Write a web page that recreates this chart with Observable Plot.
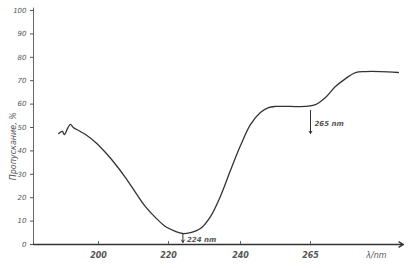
<!DOCTYPE html>
<html><head><meta charset="utf-8">
<script src="https://cdn.jsdelivr.net/npm/d3@7"></script>
<script src="https://cdn.jsdelivr.net/npm/@observablehq/plot@0.6"></script>
<style>
body{margin:0;background:#fff;}
svg{font-family:"DejaVu Sans",sans-serif;}
</style></head><body>
<div id="chart"></div>
<script>
const wavelength = [190.2,191.1,191.6,192.4,193.1,193.8,195.1,196.8,199.3,202.0,204.9,207.7,210.6,213.4,216.3,219.1,221.9,223.9,226.1,228.9,231.7,234.4,237.2,240.0,243.6,247.1,250.0,252.5,257.9,263.2,266.7,270.0,273.3,276.7,280.0,283.3,288.3,294.3];
const transmission = [47.4,48.3,47.0,49.6,51.3,50.0,48.7,47.0,43.6,39.3,34.2,28.6,22.2,16.2,11.5,7.7,5.6,4.7,5.1,6.8,12.0,20.5,31.6,42.3,51.3,56.4,58.5,59.0,59.0,59.0,59.8,62.8,67.5,70.9,73.5,73.9,73.9,73.5];
const xTicks = [200,220,240,265];
const xTickLabels = ["200","220","240","265"];
const yTicks = [0,10,20,30,40,50,60,70,80,90,100];
const markers = [224,265];
const markerLabels = ["224 nm","265 nm"];
const markerTop = [4.7,57.3];
const markerBottom = [0.9,47.4];
const markerText = [2.1,51.7];
const yTitle = "Пропускание, %";
const xTitle = "λ/nm";
// hand-drawn, unevenly spaced wavelength axis: break points of the drawing
const axisBreaks = [184,200,220,240,265,296];
const axisPos = [0,65,135,207,277,370];

const curve = wavelength.map((w,i)=>({w, t: transmission[i]}));
const ann = markers.map((m,i)=>({m, label: markerLabels[i], y1: markerTop[i], y2: markerBottom[i], ty: markerText[i]}));
const ink = "#333";
const textInk = "#555";
const warp = d3.scaleLinear().domain(axisBreaks).range(axisPos);

const chart = Plot.plot({
  width: 414, height: 268,
  marginLeft: 33, marginRight: 11, marginTop: 10, marginBottom: 24,
  x: {domain: [warp(184), warp(296)], transform: d => warp(d), axis: null},
  y: {domain: [0,100], axis: null},
  marks: [
    Plot.ruleX([184], {y1: 0, y2: 101, stroke: "#666", strokeWidth: 1}),
    Plot.arrow([0], {x1: 184, x2: 296, y1: 0, y2: 0, stroke: ink, strokeWidth: 1.3, headLength: 6, bend: 0}),
    Plot.axisY({ticks: yTicks, tickSize: 3, tickPadding: 4, fontStyle: "italic", fontSize: 7, color: textInk, label: null}),
    Plot.text(xTicks, {x: d=>d, y: 0, text: (d,i)=>xTickLabels[i], dy: 11, fontStyle: "italic", fontSize: 8, fontWeight: "bold", fill: textInk}),
    Plot.ruleX(xTicks, {x: d=>d, y1: 0, y2: 1.3, stroke: "#666"}),
    Plot.line(curve, {x: "w", y: "t", stroke: ink, strokeWidth: 1.3, curve: "catmull-rom"}),
    Plot.arrow(ann, {x1: "m", x2: "m", y1: "y1", y2: "y2", stroke: ink, strokeWidth: 1, headLength: 4, bend: 0}),
    Plot.text(ann, {x: "m", y: "ty", text: "label", dx: 4, textAnchor: "start", fontSize: 7, fontStyle: "italic", fontWeight: "bold", fill: textInk}),
    Plot.text([xTitle], {x: 287, y: 0, dy: 11, fontSize: 8, fontStyle: "italic", fill: textInk}),
    Plot.text([yTitle], {x: 184, y: 42, dx: -20, rotate: -90, fontSize: 8, fontStyle: "italic", fill: textInk})
  ]
});
document.getElementById("chart").append(chart);
</script>
</body></html>
